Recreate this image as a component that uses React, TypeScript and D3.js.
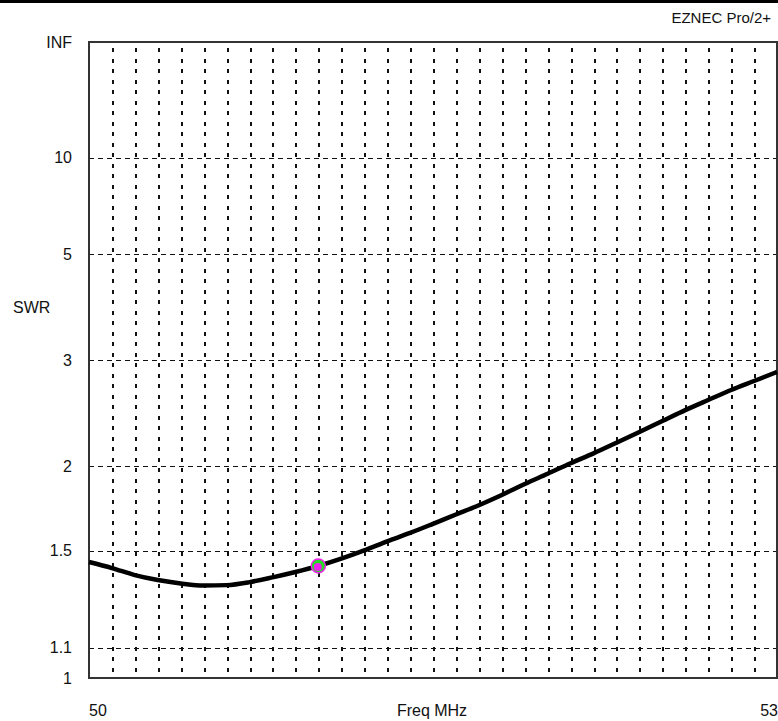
import React, { useEffect, useRef } from "react";
import * as d3 from "d3";

// SWR sweep, 50.0 .. 53.0 MHz, every 0.1 MHz
const freqs = [
  50.0, 50.1, 50.2, 50.3, 50.4, 50.5, 50.6, 50.7, 50.8, 50.9,
  51.0, 51.1, 51.2, 51.3, 51.4, 51.5, 51.6, 51.7, 51.8, 51.9,
  52.0, 52.1, 52.2, 52.3, 52.4, 52.5, 52.6, 52.7, 52.8, 52.9, 53.0,
];
const swr = [
  1.446, 1.418, 1.386, 1.364, 1.349, 1.340, 1.342, 1.355, 1.376, 1.400,
  1.428, 1.462, 1.502, 1.547, 1.591, 1.640, 1.692, 1.746, 1.808, 1.878,
  1.946, 2.020, 2.092, 2.174, 2.262, 2.356, 2.455, 2.553, 2.655, 2.752, 2.855,
];
const swrTicks = [1.1, 1.5, 2, 3, 5, 10];
const swrLabels = ["1", "1.1", "1.5", "2", "3", "5", "10", "INF"];
const swrLabelVals = [1, 1.1, 1.5, 2, 3, 5, 10, Infinity];
const markerFreq = 51.0;
const freqGrid = d3.range(1, 30).map(k => 50 + k * 0.1);

// SWR axis is linear in reflection coefficient
const rho = (s: number) => (s === Infinity ? 1 : (s - 1) / (s + 1));

const SwrChart = () => {
  const svgRef = useRef<SVGSVGElement>(null);

  useEffect(() => {
    const width = 778;
    const height = 721;
    const left = 89;
    const right = 777;
    const top = 42;
    const bottom = 678;
    const font = "Arial, 'Liberation Sans', sans-serif";

    const svg = d3.select(svgRef.current)
      .attr("width", width)
      .attr("height", height)
      .style("position", "absolute")
      .style("left", "0px")
      .style("top", "0px")
      .style("background", "#fff");
    svg.selectAll("*").remove();

    const x = d3.scaleLinear().domain([50, 53]).range([left, right]);
    const y = d3.scaleLinear().domain([0, 1]).range([bottom, top]);

    // top black band
    svg.append("rect").attr("x", 0).attr("y", 0).attr("width", width).attr("height", 3).attr("fill", "#000");

    svg.append("text")
      .attr("x", 771).attr("y", 23)
      .attr("text-anchor", "end")
      .attr("font-family", font).attr("font-size", 15)
      .attr("fill", "#111")
      .text("EZNEC Pro/2+");

    // vertical grid
    svg.append("g")
      .selectAll("line")
      .data(freqGrid)
      .join("line")
      .attr("x1", d => Math.round(x(d)) + 0.5)
      .attr("x2", d => Math.round(x(d)) + 0.5)
      .attr("y1", top + 6)
      .attr("y2", bottom)
      .attr("stroke", "#111")
      .attr("stroke-width", 2)
      .attr("stroke-dasharray", "4,6.5")
      .attr("shape-rendering", "crispEdges");

    // horizontal grid
    svg.append("g")
      .selectAll("line")
      .data(swrTicks)
      .join("line")
      .attr("x1", left)
      .attr("x2", right)
      .attr("y1", d => Math.round(y(rho(d))) + 0.5)
      .attr("y2", d => Math.round(y(rho(d))) + 0.5)
      .attr("stroke", "#111")
      .attr("stroke-width", 1)
      .attr("stroke-dasharray", "5,4")
      .attr("shape-rendering", "crispEdges");

    // frame
    svg.append("rect")
      .attr("x", left).attr("y", top)
      .attr("width", right - left).attr("height", bottom - top)
      .attr("fill", "none")
      .attr("stroke", "#333")
      .attr("stroke-width", 2);

    // y labels
    svg.append("g")
      .selectAll("text")
      .data(swrLabelVals)
      .join("text")
      .attr("x", 72)
      .attr("y", d => y(rho(d)) + 5.5)
      .attr("text-anchor", "end")
      .attr("font-family", font).attr("font-size", 16)
      .attr("fill", "#111")
      .text((d, i) => swrLabels[i]);

    svg.append("text")
      .attr("x", 13).attr("y", 313)
      .attr("font-family", font).attr("font-size", 16)
      .attr("fill", "#111")
      .text("SWR");

    // x labels
    svg.append("text")
      .attr("x", left).attr("y", 716)
      .attr("font-family", font).attr("font-size", 16)
      .attr("fill", "#111")
      .text("50");
    svg.append("text")
      .attr("x", right + 1).attr("y", 716)
      .attr("text-anchor", "end")
      .attr("font-family", font).attr("font-size", 16)
      .attr("fill", "#111")
      .text("53");
    svg.append("text")
      .attr("x", 432).attr("y", 716)
      .attr("text-anchor", "middle")
      .attr("font-family", font).attr("font-size", 16)
      .attr("fill", "#111")
      .text("Freq MHz");

    // SWR curve
    const line = d3.line<number>()
      .x((d, i) => x(freqs[i]))
      .y(d => y(rho(d)))
      .curve(d3.curveMonotoneX);

    svg.append("path")
      .datum(swr)
      .attr("d", line)
      .attr("fill", "none")
      .attr("stroke", "#000")
      .attr("stroke-width", 4.5)
      .attr("stroke-linejoin", "round");

    // marker at the selected frequency
    const mi = freqs.indexOf(markerFreq);
    const mx = x(freqs[mi]);
    const my = y(rho(swr[mi]));
    svg.append("circle")
      .attr("cx", mx).attr("cy", my).attr("r", 7)
      .attr("fill", "#22dd22")
      .attr("stroke", "#ee22ee")
      .attr("stroke-width", 1.5);
    svg.append("circle")
      .attr("cx", mx - 0.5).attr("cy", my + 1).attr("r", 4)
      .attr("fill", "#ee22ee");
  }, []);

  return <svg ref={svgRef}></svg>;
};

export default function App() {
  return <SwrChart />;
}
